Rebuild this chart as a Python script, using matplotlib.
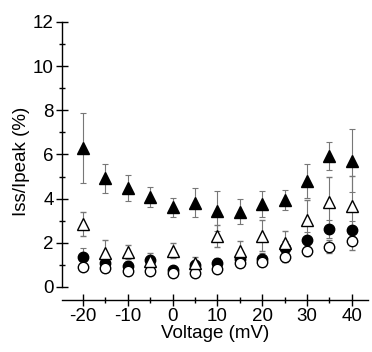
import matplotlib
matplotlib.use('Agg')
import matplotlib.pyplot as plt
from matplotlib.ticker import MultipleLocator

plt.rcParams['font.family'] = ['Liberation Sans', 'DejaVu Sans']
plt.rcParams['axes.unicode_minus'] = False

voltage = [-20, -15, -10, -5, 0, 5, 10, 15, 20, 25, 30, 35, 40]

# filled triangles
tri_f = [6.28, 4.92, 4.47, 4.09, 3.61, 3.82, 3.45, 3.41, 3.76, 3.94, 4.81, 5.93, 5.72]
tri_f_err = [1.58, 0.66, 0.58, 0.45, 0.43, 0.67, 0.9, 0.56, 0.6, 0.44, 0.76, 0.65, 1.44]
# open triangles
tri_o = [2.85, 1.55, 1.58, 1.18, 1.65, 1.09, 2.32, 1.65, 2.32, 1.98, 3.03, 3.83, 3.67]
tri_o_err = [0.55, 0.56, 0.3, 0.35, 0.35, 0.28, 0.5, 0.45, 0.7, 0.57, 0.9, 1.14, 1.37]
# filled circles
circ_f = [1.34, 1.10, 0.97, 1.22, 0.77, 1.0, 1.10, 1.27, 1.27, 1.78, 2.13, 2.63, 2.58]
circ_f_err = [0.41, 0.25, 0.2, 0.2, 0.2, 0.2, 0.22, 0.25, 0.25, 0.3, 0.35, 0.4, 0.4]
# open circles
circ_o = [0.92, 0.85, 0.74, 0.72, 0.62, 0.65, 0.83, 1.09, 1.15, 1.37, 1.65, 1.83, 2.08]
circ_o_err = [0.15, 0.15, 0.15, 0.15, 0.12, 0.12, 0.15, 0.18, 0.2, 0.25, 0.25, 0.3, 0.4]

fig = plt.figure(figsize=(3.72, 3.52), dpi=100)
ax = fig.add_axes([62/372, 52/352, 306/372, 278/352])

ebkw = dict(ecolor='#777777', elinewidth=0.8, capsize=2.5, capthick=0.8, linestyle='none')

ax.errorbar(voltage, circ_f, yerr=circ_f_err, marker='o', ms=7.5, mfc='black', mec='black', **ebkw)
ax.errorbar(voltage, circ_o, yerr=circ_o_err, marker='o', ms=7.5, mfc='white', mec='black', mew=1.0, **ebkw)
ax.errorbar(voltage, tri_o, yerr=tri_o_err, marker='^', ms=9, mfc='white', mec='black', mew=1.0, **ebkw)
ax.errorbar(voltage, tri_f, yerr=tri_f_err, marker='^', ms=9, mfc='black', mec='black', **ebkw)

ax.set_xlim(-24.7, 43.6)
ax.set_ylim(-0.59, 12.0)
ax.spines['top'].set_visible(False)
ax.spines['right'].set_visible(False)
ax.spines['left'].set_bounds(0, 12)
ax.spines['left'].set_linewidth(1.0)
ax.spines['bottom'].set_linewidth(1.0)

ax.xaxis.set_major_locator(MultipleLocator(10))
ax.xaxis.set_minor_locator(MultipleLocator(5))
ax.yaxis.set_major_locator(MultipleLocator(2))
ax.yaxis.set_minor_locator(MultipleLocator(1))
ax.tick_params(which='major', direction='inout', length=8, width=1, labelsize=13.5, pad=2)
ax.tick_params(which='minor', direction='inout', length=4.5, width=1)

ax.set_xlabel('Voltage (mV)', fontsize=13.5, labelpad=0)
ax.set_ylabel('Iss/Ipeak (%)', fontsize=13.5, labelpad=2)

fig.savefig('out.png', dpi=100)
